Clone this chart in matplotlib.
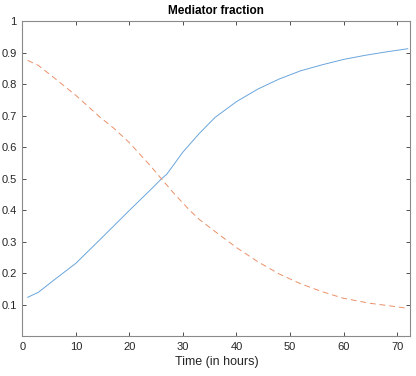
import matplotlib
matplotlib.use('Agg')
import matplotlib.pyplot as plt
import numpy as np

plt.rcParams['font.family'] = ['Liberation Sans', 'DejaVu Sans']

# values
t_blue = [1, 3, 6, 10, 14.5, 20, 24, 26, 27, 30, 33, 36, 40, 44, 48, 52, 56, 60, 64, 68, 72]
blue = [0.124, 0.140, 0.18, 0.232, 0.307, 0.40, 0.466, 0.50, 0.515, 0.585, 0.643, 0.695,
        0.745, 0.785, 0.817, 0.843, 0.862, 0.879, 0.892, 0.903, 0.913]

t_red = [1, 3, 6, 10, 14.5, 17, 20, 24, 26, 28, 31, 33, 36, 40, 44, 48, 52, 56, 60, 65, 70, 72]
red = [0.876, 0.860, 0.82, 0.765, 0.696, 0.662, 0.615, 0.54, 0.50, 0.46, 0.405, 0.372, 0.333,
       0.282, 0.237, 0.198, 0.167, 0.142, 0.121, 0.105, 0.094, 0.089]

xticks = [0, 10, 20, 30, 40, 50, 60, 70]
yticks = [0.1, 0.2, 0.3, 0.4, 0.5, 0.6, 0.7, 0.8, 0.9, 1]

fig = plt.figure(figsize=(4.16, 3.76), dpi=100)
ax = fig.add_axes([0.0536, 0.1053, 0.933, 0.838])

ax.plot(t_blue, blue, color='#6aa5dc', lw=0.7)
ax.plot(t_red, red, color='#eb8f68', lw=0.7, ls=(0, (6, 4)))

ax.set_xlim(0, 72.5)
ax.set_ylim(0, 1)
ax.set_xticks(xticks)
ax.set_yticks(yticks)
ax.set_yticklabels([('%g' % v) for v in yticks])

for s in ax.spines.values():
    s.set_color('#8a8a8a')
    s.set_linewidth(0.8)
ax.tick_params(direction='in', length=3, width=0.6, color='#333333',
               labelsize=8, labelcolor='#262626', top=True, right=True, pad=4)

ax.set_title('Mediator fraction', fontsize=8.5, fontweight='bold', pad=5)
ax.set_xlabel('Time (in hours)', fontsize=9, color='#262626', labelpad=3)

fig.savefig('out.png', dpi=100)
